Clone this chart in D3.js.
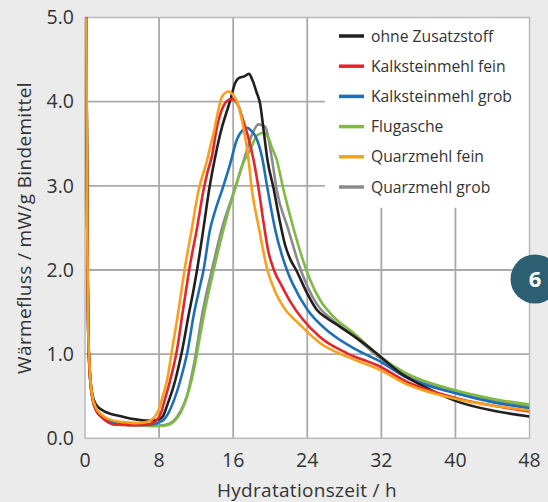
<!DOCTYPE html>
<html>
<head>
<meta charset="utf-8">
<script src="https://cdn.jsdelivr.net/npm/d3@7"></script>
<style>
  html, body { margin: 0; padding: 0; background: #ebebec; }
  svg { display: block; }
  text { font-family: "Open Sans", sans-serif; fill: #333; }
</style>
</head>
<body>
<div id="chart"></div>
<script>
// Wärmefluss curves as [time h, mW/g]
const seriesNames = ['ohne Zusatzstoff', 'Kalksteinmehl fein', 'Kalksteinmehl grob',
                     'Flugasche', 'Quarzmehl fein', 'Quarzmehl grob'];
const seriesColors = ['#231f20', '#e4262c', '#1c70b8', '#7dbb43', '#f8a01c', '#8b8b8d'];

const ohne = [[0.12,5.6],[0.25,2.4],[0.35,1.3],[0.5,0.85],[0.8,0.52],[1.2,0.4],[1.8,0.34],[2.5,0.3],
  [3.5,0.27],[4.5,0.245],[5.5,0.225],[6.5,0.21],[7.5,0.215],[8.0,0.225],[8.4,0.26],[8.9,0.4],[9.4,0.56],
  [9.75,0.69],[10.1,0.85],[10.5,1.05],[11.25,1.5],[11.7,1.75],[12.1,2.0],[12.8,2.5],[13.4,2.95],[14.0,3.31],
  [14.8,3.7],[15.3,3.88],[15.7,4.02],[16.2,4.22],[16.6,4.28],[17.2,4.3],[17.7,4.33],[18.1,4.25],[18.5,4.12],
  [18.9,3.98],[19.3,3.65],[19.7,3.31],[20.36,2.97],[21.0,2.6],[21.6,2.3],[22.2,2.12],[22.8,2.0],[24,1.72],
  [25,1.53],[26.1,1.43],[27.2,1.35],[29.35,1.19],[30.8,1.07],[31.9,0.97],[34.4,0.75],[36,0.65],[38,0.54],
  [40,0.445],[44,0.33],[48,0.26]];

const kalkFein = [[0.12,5.6],[0.25,2.4],[0.35,1.25],[0.5,0.8],[0.8,0.48],[1.2,0.33],[1.8,0.25],[2.5,0.19],
  [3.0,0.165],[4,0.16],[5,0.155],[6,0.16],[7,0.17],[7.6,0.2],[8.13,0.28],[8.6,0.45],[9.2,0.69],[9.6,0.87],
  [9.93,1.05],[10.55,1.5],[10.9,1.75],[11.25,2.0],[12.1,2.5],[12.8,2.95],[13.2,3.15],[13.7,3.35],[14.25,3.7],
  [14.6,3.85],[15.0,3.96],[15.5,4.02],[15.9,4.03],[16.3,4.0],[16.6,3.94],[17.0,3.8],[17.5,3.63],[18.2,3.31],
  [18.74,2.97],[19.3,2.55],[19.8,2.22],[20.4,2.0],[21.3,1.8],[22.3,1.6],[23.4,1.43],[25.4,1.2],[28.3,1.01],
  [31.9,0.85],[34.4,0.69],[40,0.48],[44,0.39],[48,0.32]];

const kalkGrob = [[0.12,5.6],[0.25,2.4],[0.35,1.25],[0.5,0.8],[0.8,0.48],[1.2,0.34],[1.8,0.26],[2.5,0.21],
  [3.5,0.18],[4.5,0.17],[5.5,0.165],[6.5,0.16],[7.5,0.17],[8.0,0.19],[8.5,0.22],[9.0,0.3],[9.7,0.48],
  [10.3,0.69],[11.1,1.05],[11.8,1.5],[12.3,1.75],[12.8,2.0],[13.5,2.48],[14.1,2.72],[14.8,2.95],[15.7,3.27],
  [16.4,3.55],[17.0,3.66],[17.5,3.69],[17.9,3.66],[18.4,3.59],[19.1,3.35],[19.7,2.97],[20.5,2.5],[21.8,2.0],
  [22.5,1.82],[24,1.53],[26.5,1.25],[29.35,1.05],[31.9,0.91],[34.4,0.74],[40,0.535],[44,0.43],[48,0.357]];

const flugasche = [[0.12,5.6],[0.25,2.4],[0.35,1.25],[0.5,0.8],[0.8,0.48],[1.2,0.34],[1.8,0.26],[2.5,0.2],
  [3.5,0.17],[4.5,0.16],[5.5,0.155],[6.5,0.15],[7.5,0.145],[8.5,0.15],[9.0,0.16],[9.6,0.2],[10.3,0.3],
  [11.0,0.49],[11.9,0.89],[12.4,1.2],[13.0,1.55],[13.9,2.0],[15.0,2.5],[16.3,3.0],[17.0,3.25],
  [17.85,3.43],[18.6,3.6],[19.3,3.63],[19.8,3.57],[20.2,3.45],[20.7,3.31],[21.4,2.97],[22.5,2.5],[23.9,2.0],
  [25.4,1.64],[26.8,1.45],[29,1.25],[31.9,0.97],[34.4,0.79],[40,0.57],[44,0.47],[48,0.40]];

const quarzFein = [[0.12,5.6],[0.25,2.4],[0.35,1.3],[0.5,0.85],[0.8,0.5],[1.2,0.36],[1.8,0.28],[2.5,0.23],
  [3.5,0.2],[4.5,0.19],[5.5,0.18],[6.5,0.19],[7.2,0.22],[7.95,0.34],[8.4,0.5],[8.86,0.69],[9.4,1.05],
  [10.0,1.45],[10.75,2.0],[11.55,2.5],[12.27,2.95],[13.2,3.31],[13.6,3.5],[13.9,3.63],[14.3,3.85],
  [14.8,4.06],[15.5,4.12],[16.0,4.08],[16.4,4.0],[17.1,3.7],[17.66,3.31],[18.0,2.97],[18.74,2.52],[19.7,2.0],
  [20.5,1.75],[21.5,1.55],[23.2,1.35],[25.4,1.13],[28.3,0.97],[31.9,0.81],[34.4,0.66],[40,0.47],[44,0.39],
  [48,0.33]];

const quarzGrob = [[0.12,5.6],[0.25,2.4],[0.35,1.25],[0.5,0.8],[0.8,0.48],[1.2,0.34],[1.8,0.26],[2.5,0.2],
  [3.5,0.17],[4.5,0.16],[5.5,0.155],[6.5,0.15],[7.5,0.15],[8.5,0.155],[9.0,0.17],[9.6,0.21],[10.3,0.32],
  [11.0,0.5],[11.8,0.9],[12.7,1.5],[13.7,2.0],[14.8,2.5],[16.2,2.97],[17.3,3.36],[18.0,3.6],[18.74,3.73],
  [19.46,3.7],[20.2,3.31],[20.7,2.95],[21.9,2.5],[23.3,2.0],[25,1.6],[26.8,1.4],[29,1.22],[32,0.94],
  [34.4,0.77],[40,0.55],[44,0.45],[48,0.375]];

const seriesData = [ohne, kalkFein, kalkGrob, flugasche, quarzFein, quarzGrob];
const drawOrder = [5, 3, 2, 0, 1, 4];

const xTicks = [0, 8, 16, 24, 32, 40, 48];
const yTicks = [0, 1, 2, 3, 4, 5];

const width = 548, height = 502;

const svg = d3.select('#chart').append('svg')
  .attr('width', width)
  .attr('height', height);

const x = d3.scaleLinear().domain([0, 48]).range([85, 529.5]);
const y = d3.scaleLinear().domain([0, 5]).range([438.3, 17.5]);

// plot area
svg.append('rect')
  .attr('x', x(0)).attr('y', y(5))
  .attr('width', x(48) - x(0)).attr('height', y(0) - y(5))
  .style('fill', '#fff');

svg.append('clipPath').attr('id', 'plotclip')
  .append('rect')
  .attr('x', x(0)).attr('y', y(5))
  .attr('width', x(48) - x(0)).attr('height', y(0) - y(5));

// grid - some lines stop short of the legend / badge
const gridColor = '#a9a9ad';
const vGrid = [[8, 0, 5], [16, 0, 5], [24, 0, 5], [32, 0, 2.74], [40, 0, 2.74]];
const hGrid = [[1, 0, 48], [2, 0, 46.1], [3, 0, 25.9], [4, 0, 25.9]];

let grid = svg.append('g').attr('class', 'grid');
grid.selectAll('.v').data(vGrid).enter().append('line')
  .attr('x1', d => x(d[0])).attr('x2', d => x(d[0]))
  .attr('y1', d => y(d[1])).attr('y2', d => y(d[2]))
  .style('stroke', gridColor).style('stroke-width', 1.8);
grid.selectAll('.h').data(hGrid).enter().append('line')
  .attr('y1', d => y(d[0])).attr('y2', d => y(d[0]))
  .attr('x1', d => x(d[1])).attr('x2', d => x(d[2]))
  .style('stroke', gridColor).style('stroke-width', 1.8);

// frame
svg.append('rect')
  .attr('x', x(0)).attr('y', y(5))
  .attr('width', x(48) - x(0)).attr('height', y(0) - y(5))
  .style('fill', 'none').style('stroke', '#b9b9bd').style('stroke-width', 1.5);

// curves
const line = d3.line()
  .x(d => x(d[0]))
  .y(d => y(d[1]))
  .curve(d3.curveMonotoneX);

svg.append('g').attr('clip-path', 'url(#plotclip)')
  .selectAll('path')
  .data(drawOrder)
  .enter().append('path')
  .attr('d', i => line(seriesData[i]))
  .style('fill', 'none')
  .style('stroke', i => seriesColors[i])
  .style('stroke-width', 2.6)
  .style('stroke-linejoin', 'round');

// tick labels
svg.append('g').selectAll('text')
  .data(xTicks).enter().append('text')
  .attr('x', d => x(d)).attr('y', 467)
  .attr('text-anchor', 'middle')
  .style('font-size', '19.5px')
  .text(d => d);

svg.append('g').selectAll('text')
  .data(yTicks).enter().append('text')
  .attr('x', 74).attr('y', d => y(d))
  .attr('dy', '0.35em')
  .attr('text-anchor', 'end')
  .style('font-size', '19.5px')
  .text(d => d.toFixed(1));

// axis titles
svg.append('text')
  .attr('x', 307).attr('y', 497)
  .attr('text-anchor', 'middle')
  .style('font-size', '19px')
  .style('letter-spacing', '0.3px')
  .text('Hydratationszeit / h');

svg.append('text')
  .attr('transform', 'translate(31,228) rotate(-90)')
  .attr('text-anchor', 'middle')
  .style('font-size', '19px')
  .style('letter-spacing', '0.35px')
  .text('Wärmefluss / mW/g Bindemittel');

// legend
let legend = svg.append('g').attr('class', 'legend');
let item = legend.selectAll('g')
  .data(seriesNames).enter().append('g')
  .attr('transform', (d, i) => 'translate(0,' + (36 + i * 30.2) + ')');
item.append('line')
  .attr('x1', 339).attr('x2', 364)
  .style('stroke', (d, i) => seriesColors[i])
  .style('stroke-width', 3.5);
item.append('text')
  .attr('x', 371).attr('dy', '0.35em')
  .style('font-size', '15.7px')
  .text(d => d);

// chapter badge
svg.append('circle')
  .attr('cx', 535).attr('cy', 279).attr('r', 24.5)
  .style('fill', '#2d5f72');
svg.append('text')
  .attr('x', 535).attr('y', 279).attr('dy', '0.36em')
  .attr('text-anchor', 'middle')
  .style('font-size', '22px').style('font-weight', 'bold')
  .style('fill', '#fff')
  .text('6');
</script>
</body>
</html>
